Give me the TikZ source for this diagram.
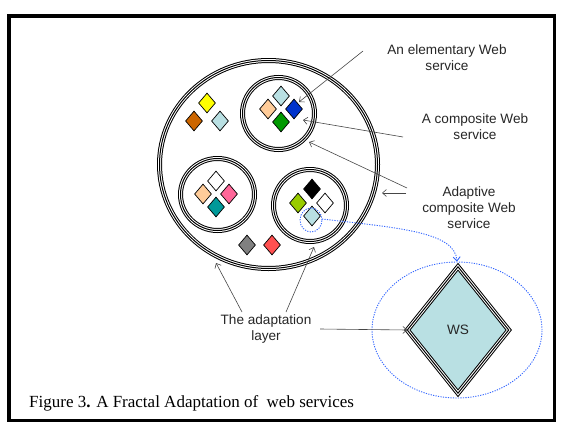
\documentclass[tikz,border=0pt]{standalone}
\usepackage{fontspec}
\setmainfont{Liberation Serif}
\setsansfont{Liberation Sans}
\usetikzlibrary{shapes.geometric,arrows.meta}
\definecolor{lblue}{RGB}{185,224,227}
\definecolor{wsyellow}{RGB}{255,255,0}
\definecolor{wsbrown}{RGB}{204,102,0}
\definecolor{wspeach}{RGB}{255,204,153}
\definecolor{wsblue}{RGB}{0,51,204}
\definecolor{wsgreen}{RGB}{0,153,0}
\definecolor{wspink}{RGB}{255,102,153}
\definecolor{wsteal}{RGB}{0,153,153}
\definecolor{wslime}{RGB}{153,204,0}
\definecolor{wsgray}{RGB}{128,128,128}
\definecolor{wsred}{RGB}{255,80,80}
\definecolor{dotblue}{RGB}{51,102,255}
\definecolor{linegray}{RGB}{70,70,70}
\newcommand\tripledraw[1]{\draw[line width=5pt]#1;\draw[white,line width=3pt]#1;\draw[line width=1pt]#1;}
\tikzset{
  gem/.style={diamond,draw=black,line width=0.7pt,minimum width=17pt,minimum height=20pt,inner sep=0pt,fill=#1},
  ring/.style={ellipse,inner sep=0pt},
  lbl/.style={font=\sffamily\fontsize{13.6}{15.8}\selectfont,align=center,inner sep=0pt,text=black!85},
  pointer/.style={draw=linegray,line width=0.6pt,-{Straight Barb[length=4pt,width=7pt]}},
  bluedot/.style={draw=dotblue,line width=0.9pt,dash pattern=on 1.2pt off 1.3pt}
}
\begin{document}
\begin{tikzpicture}[x=1pt,y=-1pt]
\useasboundingbox (0,0) rectangle (561,423);
% frame
\draw[line width=3.5pt] (9,16) rectangle (554.5,420.5);
% rings
\node[ring,minimum width=218pt,minimum height=208pt] (outer) at (268.5,164.5) {};
\node[ring,minimum width=72pt,minimum height=72pt] (ctop) at (278.5,113.5) {};
\node[ring,minimum width=74pt,minimum height=72pt] (cleft) at (217.5,194.5) {};
\node[ring,minimum width=73pt,minimum height=72pt] (cright) at (310,205.5) {};
\tripledraw{(outer.center) ellipse [x radius=109pt, y radius=104pt]}
\tripledraw{(ctop.center) ellipse [x radius=36pt, y radius=36pt]}
\tripledraw{(cleft.center) ellipse [x radius=37pt, y radius=36pt]}
\tripledraw{(cright.center) ellipse [x radius=36.5pt, y radius=36pt]}
% loose services
\node[gem=wsyellow] (d1) at (207,103) {};
\node[gem=wsbrown] (d2) at (194,121) {};
\node[gem=lblue] (d3) at (220,121) {};
% top composite
\node[gem=lblue] (t1) at (281,96) {};
\node[gem=wspeach] (t2) at (268,109) {};
\node[gem=wsblue] (t3) at (294,109) {};
\node[gem=wsgreen] (t4) at (281,122) {};
% left composite
\node[gem=white] (l1) at (216,181) {};
\node[gem=wspeach] (l2) at (203,194) {};
\node[gem=wspink] (l3) at (229,194) {};
\node[gem=wsteal] (l4) at (216,207) {};
% right composite
\node[gem=black] (r1) at (312,189) {};
\node[gem=wslime] (r2) at (298,203) {};
\node[gem=white] (r3) at (325,203) {};
\node[gem=lblue] (r4) at (312,216) {};
% bottom
\node[gem=wsgray] (b1) at (247,245) {};
\node[gem=wsred] (b2) at (272,245) {};
% zoomed WS
\node[ellipse,bluedot,minimum width=170pt,minimum height=136pt] (big) at (457,330) {};
\node[ellipse,bluedot,minimum width=22pt,minimum height=24pt] (small) at (311,220) {};
\node[diamond,fill=lblue,minimum width=101pt,minimum height=126pt,inner sep=0pt,font=\sffamily\fontsize{13.6}{15.8}\selectfont,text=black!85] (ws) at (458,330) {WS};
\tripledraw{[line join=miter] (ws.north) -- (ws.east) -- (ws.south) -- (ws.west) -- cycle}
\coordinate (dotstart) at (322,219);
\draw[bluedot,-{Straight Barb[length=4pt,width=7pt]}] (dotstart) .. controls (400,228) and (455,232) .. (big.north);
% labels
\node[lbl] (elem) at (447,58) {An elementary Web\\service};
\node[lbl] (comp) at (475,126.5) {A composite Web\\service};
\node[lbl] (adapt) at (469,207.5) {Adaptive\\composite Web\\service};
\node[lbl] (layer) at (266,329) {The adaptation\\layer};
\node[anchor=base west,inner sep=0pt,font=\fontsize{17}{20}\selectfont] (cap) at (29,407) {Figure 3\textbf{.} A Fractal Adaptation of\ \ web services};
% pointers
\coordinate (e1s) at (363,51); \coordinate (e1e) at (299,102);
\coordinate (c1s) at (403,137); \coordinate (c1e) at (303,120);
\coordinate (a1s) at (407,188); \coordinate (a1e) at (309,142);
\coordinate (a2s) at (406,193); \coordinate (a2e) at (382,193);
\coordinate (y1s) at (242,312); \coordinate (y1e) at (216,263);
\coordinate (y2s) at (286,312); \coordinate (y2e) at (314,247);
\coordinate (y3s) at (320,329);
\draw[pointer] (e1s) -- (e1e);
\draw[pointer] (c1s) -- (c1e);
\draw[pointer] (a1s) -- (a1e);
\draw[pointer] (a2s) -- (a2e);
\draw[pointer] (y1s) -- (y1e);
\draw[pointer] (y2s) -- (y2e);
\draw[pointer] (y3s) -- (ws.west);
\end{tikzpicture}
\end{document}
